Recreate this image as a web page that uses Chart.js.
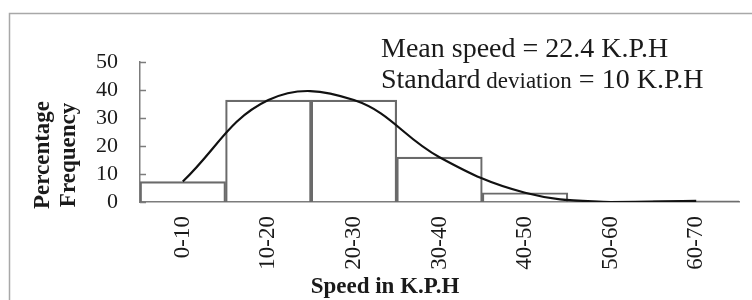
<!DOCTYPE html>
<html>
<head>
<meta charset="utf-8">
<script src="https://cdn.jsdelivr.net/npm/chart.js@4.4.1/dist/chart.umd.min.js"></script>
<style>
  html, body { margin: 0; padding: 0; background: #fff; }
  #wrap { width: 752px; height: 300px; }
</style>
</head>
<body>
<div id="wrap"><canvas id="speedChart" width="752" height="300"></canvas></div>
<script>
// --- DADOS ---
const speedClasses = ['0-10', '10-20', '20-30', '30-40', '40-50', '50-60', '60-70'];
const percentFrequency = [7.3, 36.4, 36.4, 16.0, 3.3, 0, 0.4];
const yTickValues = [0, 10, 20, 30, 40, 50];
const meanText = 'Mean speed = 22.4 K.P.H';
const sdParts = ['Standard', ' deviation', ' = 10 K.P.H'];
const yTitleLines = ['Percentage', 'Frequency'];
const xTitle = 'Speed in K.P.H';

const SERIF = '"Liberation Serif", "Times New Roman", serif';
const AXIS_GRAY = '#7c7c7c';
const TEXT = '#1a1a1a';

// --- PLUGIN: moldura, textos e marcas internas do eixo Y ---
const decorations = {
  id: 'decorations',
  beforeDraw(chart) {
    const c = chart.ctx;
    c.save();
    c.strokeStyle = '#a8a8a8';
    c.lineWidth = 1.5;
    c.strokeRect(9.5, 13.5, 800, 400);
    c.restore();
  },
  afterDraw(chart) {
    const c = chart.ctx;
    const yScale = chart.scales.y;
    const left = chart.chartArea.left;

    c.save();
    // marcas do eixo Y para dentro
    c.strokeStyle = AXIS_GRAY;
    c.lineWidth = 1.5;
    yTickValues.forEach(v => {
      const py = Math.round(yScale.getPixelForValue(v)) + 0.5;
      c.beginPath();
      c.moveTo(left, py);
      c.lineTo(left + 6, py);
      c.stroke();
    });

    // caixa de texto com media e desvio
    c.fillStyle = TEXT;
    c.textBaseline = 'alphabetic';
    c.textAlign = 'left';
    c.font = '28px ' + SERIF;
    c.fillText(meanText, 381, 57);
    let x = 381;
    const sizes = [28, 23, 28];
    sdParts.forEach((part, i) => {
      c.font = sizes[i] + 'px ' + SERIF;
      c.fillText(part, x, 88);
      x += c.measureText(part).width;
    });

    // titulo do eixo X
    c.font = 'bold 23px ' + SERIF;
    c.textAlign = 'center';
    c.fillText(xTitle, 385, 293);

    // titulo do eixo Y (duas linhas, rotacionado)
    c.translate(0, 155);
    c.rotate(-Math.PI / 2);
    c.textBaseline = 'middle';
    c.fillText(yTitleLines[0], 0, 43);
    c.fillText(yTitleLines[1], 0, 69);
    c.restore();
  }
};

// --- GRAFICO ---
const ctx = document.getElementById('speedChart').getContext('2d');
new Chart(ctx, {
  data: {
    labels: speedClasses,
    datasets: [
      {
        type: 'line',
        label: 'Curva',
        data: percentFrequency,
        borderColor: '#111',
        borderWidth: 2.2,
        pointRadius: 0,
        tension: 0.4,
        fill: false,
        order: 0
      },
      {
        type: 'bar',
        label: 'Frequencia',
        data: percentFrequency,
        backgroundColor: 'rgba(255,255,255,0)',
        borderColor: '#6a6a6a',
        borderWidth: 1.5,
        barPercentage: 1,
        categoryPercentage: 1,
        order: 1
      }
    ]
  },
  options: {
    responsive: false,
    devicePixelRatio: 1,
    animation: false,
    layout: { padding: { left: 0, top: 62, right: 13, bottom: 0 } },
    plugins: { legend: { display: false }, tooltip: { enabled: false } },
    scales: {
      x: {
        offset: true,
        grid: { display: false, drawTicks: false },
        border: { display: true, color: AXIS_GRAY, width: 1.5 },
        ticks: {
          color: TEXT,
          font: { family: SERIF, size: 23 },
          minRotation: 90,
          maxRotation: 90,
          padding: 14,
          autoSkip: false
        },
        afterFit(scale) { scale.height = 98; }
      },
      y: {
        min: 0,
        max: 50,
        grid: { display: false, drawTicks: false },
        border: { display: true, color: AXIS_GRAY, width: 1.5 },
        ticks: {
          color: TEXT,
          font: { family: SERIF, size: 22 },
          stepSize: 10,
          padding: 22,
          autoSkip: false
        },
        afterFit(scale) { scale.width = 140; }
      }
    }
  },
  plugins: [decorations]
});
</script>
</body>
</html>
